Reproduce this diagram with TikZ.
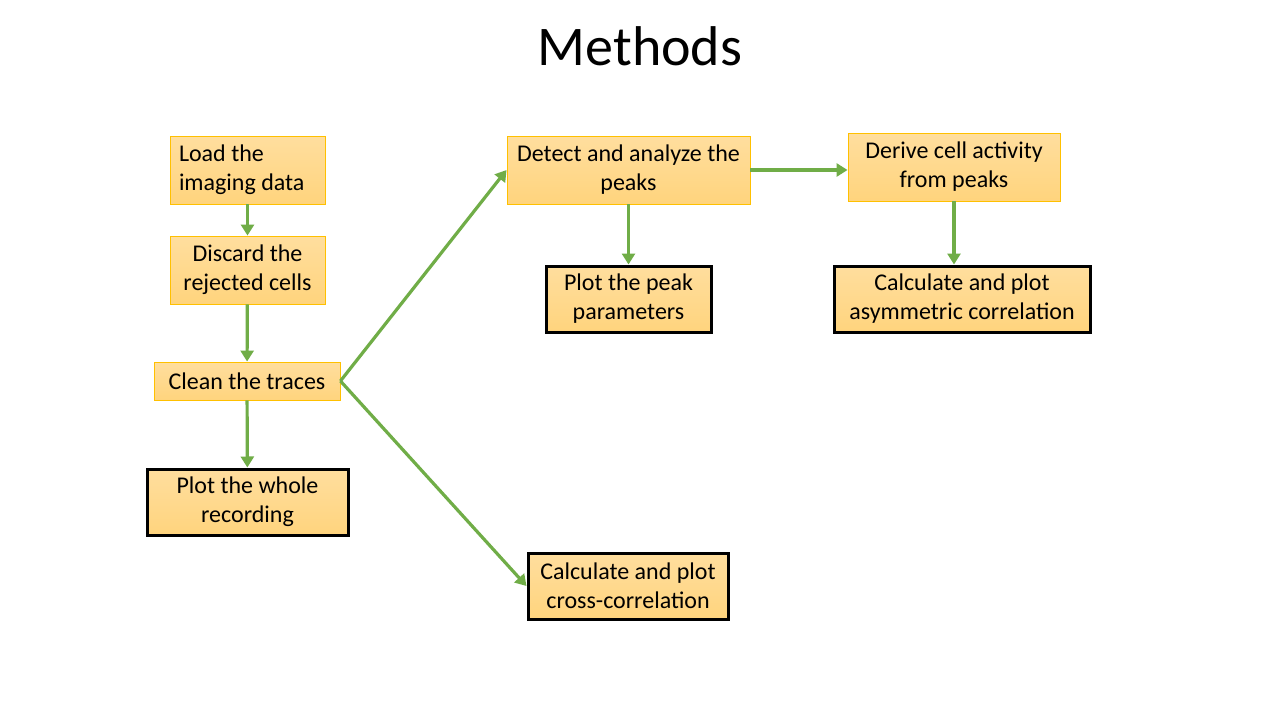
\documentclass[tikz,border=0pt]{standalone}
\usepackage{fontspec}
\setmainfont{Carlito}
\usetikzlibrary{arrows.meta}
\definecolor{boxtop}{RGB}{255,222,158}
\definecolor{boxbot}{RGB}{255,212,125}
\definecolor{boxedge}{RGB}{255,192,0}
\definecolor{arrowgreen}{RGB}{112,173,71}
\tikzset{
  stepbox/.style={rectangle, inner sep=0pt, top color=boxtop, bottom color=boxbot,
    draw=boxedge, line width=0.9pt, align=center,
    font=\fontsize{24}{29}\selectfont},
  plotbox/.style={stepbox, draw=black, line width=3pt},
  flow/.style={draw=arrowgreen, line width=3.2pt, -{Triangle[length=11pt,width=13pt]}}
}
\begin{document}
\begin{tikzpicture}[x=1pt,y=-1pt]
\path[fill=white,use as bounding box] (0,0) rectangle (1280,720);
\node[font=\fontsize{56}{64}\selectfont] (title) at (640,46) {Methods};

\node[stepbox, minimum width=155pt, minimum height=68pt, align=flush left, text width=137pt] (load) at (247.5,170) {Load the\\imaging data};
\node[stepbox, minimum width=155pt, minimum height=68pt] (discard) at (247.5,270) {Discard the\\rejected cells};
\node[stepbox, minimum width=186pt, minimum height=38pt] (clean) at (247,381) {Clean the traces};
\node[plotbox, minimum width=201pt, minimum height=66pt] (whole) at (247.5,502) {Plot the whole\\recording};
\node[stepbox, minimum width=243pt, minimum height=68pt] (detect) at (628.5,170) {Detect and analyze the\\peaks};
\node[plotbox, minimum width=165pt, minimum height=66pt] (peak) at (628.5,299) {Plot the peak\\parameters};
\node[stepbox, minimum width=212pt, minimum height=68pt] (derive) at (954,167) {Derive cell activity\\from peaks};
\node[plotbox, minimum width=256pt, minimum height=66pt] (asym) at (962,299) {Calculate and plot\\asymmetric correlation};
\node[plotbox, minimum width=200pt, minimum height=66pt] (cross) at (628,586) {Calculate and plot\\cross-correlation};

\draw[flow] (load) -- (discard);
\draw[flow] (discard) -- (clean);
\draw[flow] (clean) -- (whole);
\draw[flow] (clean.east) -- (detect.west);
\draw[flow] (clean.east) -- (cross.west);
\draw[flow] (detect.east) -- (detect.east -| derive.west);
\draw[flow] (detect) -- (peak);
\draw[flow] (derive.south) -- (derive.south |- asym.north);
\end{tikzpicture}
\end{document}
